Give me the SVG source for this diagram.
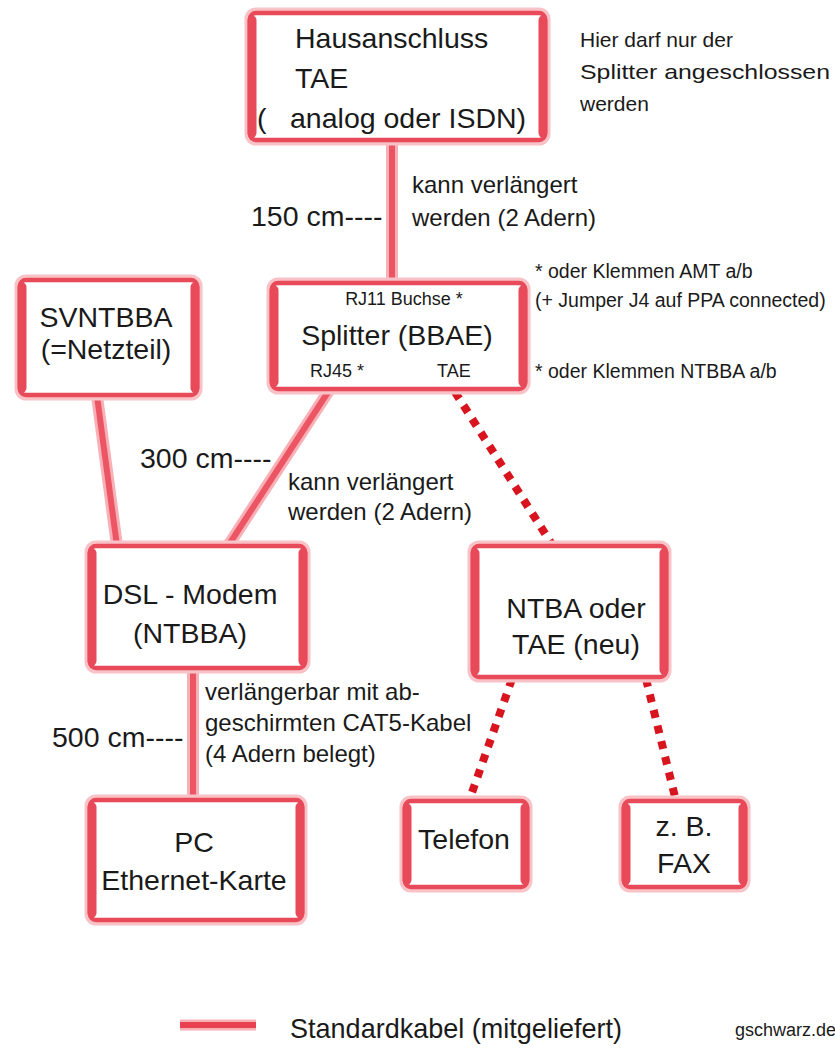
<svg xmlns="http://www.w3.org/2000/svg" width="835" height="1048" viewBox="0 0 835 1048">
<style>
text{font-family:"Liberation Sans",Arial,sans-serif;fill:#1a1a1a}
.big{font-size:28.5px}
.mid{font-size:24px}
.sm{font-size:18px}
.nt{font-size:19.5px}
.c{text-anchor:middle}
.glow{fill:none;stroke:#f8c2c7;stroke-width:11}
.box{fill:#fff;stroke:#e84a59;stroke-width:4.5}
.side{stroke:#e84a59;stroke-width:9;stroke-linecap:round}
.cg{stroke:#f8b0b7;stroke-width:12;fill:none}
.cl{stroke:#ec5563;stroke-width:6;fill:none}
.dot{stroke:#d8141f;stroke-width:8;stroke-dasharray:8 8;fill:none}
</style>
<rect width="835" height="1048" fill="#fff"/>
<g id="connectors">
<line class="cg" x1="392" y1="140" x2="392" y2="283"/><line class="cl" x1="392" y1="140" x2="392" y2="283"/>
<line class="cg" x1="97" y1="396" x2="117" y2="546"/><line class="cl" x1="97" y1="396" x2="117" y2="546"/>
<line class="cg" x1="330" y1="389" x2="228" y2="546"/><line class="cl" x1="330" y1="389" x2="228" y2="546"/>
<line class="cg" x1="193" y1="668" x2="193" y2="800"/><line class="cl" x1="193" y1="668" x2="193" y2="800"/>
<line class="dot" x1="455" y1="392" x2="553" y2="546"/>
<line class="dot" x1="512" y1="679" x2="469" y2="801"/>
<line class="dot" x1="646" y1="679" x2="676" y2="801"/>
</g>
<g id="hausanschluss">
<rect class="glow" x="250" y="13" width="295" height="127" rx="6"/>
<rect class="box" x="250" y="13" width="295" height="127" rx="6"/>
<line class="side" x1="252" y1="20" x2="252" y2="133"/><line class="side" x1="543" y1="20" x2="543" y2="133"/>
<text class="big" x="295" y="48">Hausanschluss</text>
<text class="big" x="295" y="88">TAE</text>
<text class="big" x="257" y="128">(<tspan x="290">analog oder ISDN)</tspan></text>
</g>
<g id="note-top">
<text style="font-size:21px" x="580" y="47">Hier darf nur der</text>
<text style="font-size:21px" x="580" y="79" textLength="250" lengthAdjust="spacingAndGlyphs">Splitter angeschlossen</text>
<text style="font-size:21px" x="580" y="111">werden</text>
</g>
<g id="label-150">
<text class="big" x="251" y="226">150 cm----</text>
<text class="mid" x="412" y="193">kann verlängert</text>
<text class="mid" x="412" y="226">werden (2 Adern)</text>
</g>
<g id="splitter">
<rect class="glow" x="272" y="283" width="253" height="106" rx="6"/>
<rect class="box" x="272" y="283" width="253" height="106" rx="6"/>
<line class="side" x1="274" y1="290" x2="274" y2="382"/><line class="side" x1="523" y1="290" x2="523" y2="382"/>
<text class="sm c" x="404" y="305">RJ11 Buchse *</text>
<text class="big c" x="397" y="345">Splitter (BBAE)</text>
<text class="sm" x="310" y="377">RJ45 *</text>
<text class="sm" x="437" y="377">TAE</text>
</g>
<g id="note-splitter">
<text class="nt" x="535" y="278">* oder Klemmen AMT a/b</text>
<text class="nt" x="535" y="307">(+ Jumper J4 auf PPA connected)</text>
<text class="nt" x="535" y="378">* oder Klemmen NTBBA a/b</text>
</g>
<g id="svntbba">
<rect class="glow" x="20" y="280" width="177" height="115" rx="6"/>
<rect class="box" x="20" y="280" width="177" height="115" rx="6"/>
<line class="side" x1="22" y1="287" x2="22" y2="388"/><line class="side" x1="195" y1="287" x2="195" y2="388"/>
<text class="big c" x="106" y="327">SVNTBBA</text>
<text class="big c" x="106" y="359">(=Netzteil)</text>
</g>
<g id="label-300">
<text class="big" x="140" y="468">300 cm----</text>
<text class="mid" x="288" y="490">kann verlängert</text>
<text class="mid" x="288" y="520">werden (2 Adern)</text>
</g>
<g id="dsl-modem">
<rect class="glow" x="90" y="546" width="215" height="122" rx="6"/>
<rect class="box" x="90" y="546" width="215" height="122" rx="6"/>
<line class="side" x1="92" y1="553" x2="92" y2="661"/><line class="side" x1="303" y1="553" x2="303" y2="661"/>
<text class="big c" x="190" y="604">DSL - Modem</text>
<text class="big c" x="190" y="643">(NTBBA)</text>
</g>
<g id="ntba">
<rect class="glow" x="473" y="546" width="193" height="131" rx="6"/>
<rect class="box" x="473" y="546" width="193" height="131" rx="6"/>
<line class="side" x1="475" y1="553" x2="475" y2="670"/><line class="side" x1="664" y1="553" x2="664" y2="670"/>
<text class="big c" x="576" y="618">NTBA oder</text>
<text class="big c" x="576" y="654">TAE (neu)</text>
</g>
<g id="label-500">
<text class="big" x="52" y="747">500 cm----</text>
<text class="mid" x="205" y="700">verlängerbar mit ab-</text>
<text class="mid" x="205" y="731">geschirmten CAT5-Kabel</text>
<text class="mid" x="205" y="762">(4 Adern belegt)</text>
</g>
<g id="pc">
<rect class="glow" x="90" y="800" width="212" height="120" rx="6"/>
<rect class="box" x="90" y="800" width="212" height="120" rx="6"/>
<line class="side" x1="92" y1="807" x2="92" y2="913"/><line class="side" x1="300" y1="807" x2="300" y2="913"/>
<text class="big c" x="194" y="852">PC</text>
<text class="big c" x="194" y="890">Ethernet-Karte</text>
</g>
<g id="telefon">
<rect class="glow" x="405" y="801" width="122" height="86" rx="6"/>
<rect class="box" x="405" y="801" width="122" height="86" rx="6"/>
<line class="side" x1="407" y1="808" x2="407" y2="880"/><line class="side" x1="525" y1="808" x2="525" y2="880"/>
<text class="big c" x="464" y="849">Telefon</text>
</g>
<g id="fax">
<rect class="glow" x="624" y="801" width="121" height="86" rx="6"/>
<rect class="box" x="624" y="801" width="121" height="86" rx="6"/>
<line class="side" x1="626" y1="808" x2="626" y2="880"/><line class="side" x1="743" y1="808" x2="743" y2="880"/>
<text class="big c" x="684" y="836">z. B.</text>
<text class="big c" x="684" y="873">FAX</text>
</g>
<g id="legend">
<line x1="180" y1="1025" x2="256" y2="1025" stroke="#f8b0b7" stroke-width="11"/>
<line x1="180" y1="1025" x2="256" y2="1025" stroke="#e9414f" stroke-width="6"/>
<text x="290" y="1038" style="font-size:28px" textLength="332" lengthAdjust="spacingAndGlyphs">Standardkabel (mitgeliefert)</text>
<text x="735" y="1036" style="font-size:18px">gschwarz.de</text>
</g>
</svg>
